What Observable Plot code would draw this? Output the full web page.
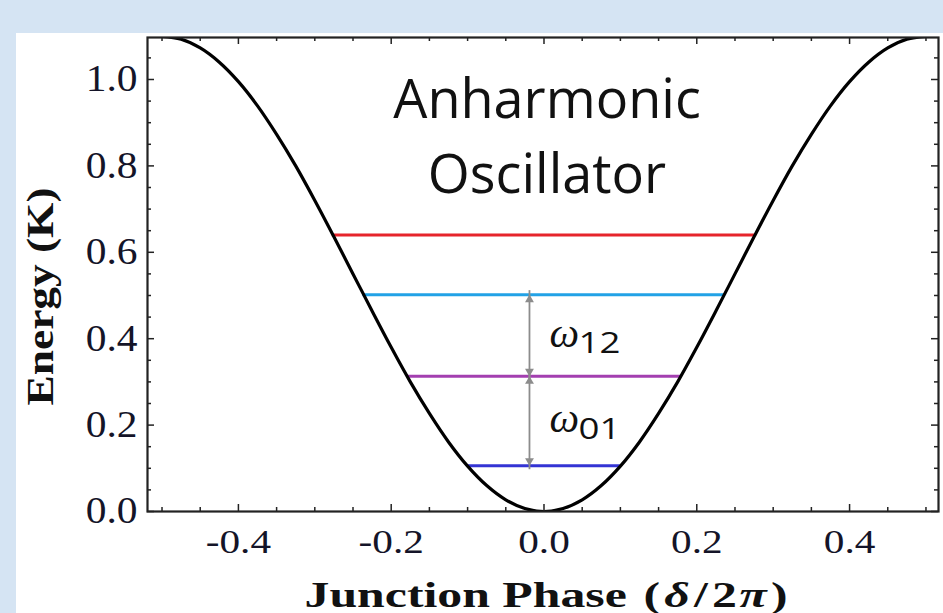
<!DOCTYPE html>
<html><head><meta charset="utf-8">
<script src="https://cdn.jsdelivr.net/npm/d3@7"></script>
<script src="https://cdn.jsdelivr.net/npm/@observablehq/plot@0.6"></script>
<style>
html,body{margin:0;padding:0;width:943px;height:613px;overflow:hidden;
  background:#d5e4f3;}
#panel{position:absolute;left:16px;top:33px;width:927px;height:580px;background:#fff}
#panel svg{overflow:visible}
</style></head><body><div id="panel"></div>
<script>
// potential curve (junction phase δ/2π, energy K)
const phase = [-0.5,-0.475,-0.45,-0.425,-0.4,-0.375,-0.35,-0.325,-0.3,-0.275,-0.25,-0.225,-0.2,-0.175,-0.15,-0.125,-0.1,-0.075,-0.05,-0.025,
  0,0.025,0.05,0.075,0.1,0.125,0.15,0.175,0.2,0.225,0.25,0.275,0.3,0.325,0.35,0.375,0.4,0.425,0.45,0.475,0.5];
const energy = [1.100,1.093,1.073,1.040,0.995,0.939,0.873,0.800,0.720,0.636,0.550,0.464,0.380,0.300,0.227,0.161,0.105,0.060,0.027,0.007,
  0,0.007,0.027,0.060,0.105,0.161,0.227,0.300,0.380,0.464,0.550,0.636,0.720,0.800,0.873,0.939,0.995,1.040,1.073,1.093,1.100];

// energy levels
const levelEnergy = [0.106, 0.313, 0.502, 0.640];
const levelLeft   = [-0.100, -0.179, -0.237, -0.277];
const levelRight  = [0.100, 0.179, 0.237, 0.277];
const levelColors = ["#3434d4", "#a33fb0", "#22a2e6", "#e6242b"];

// transitions (arrows between levels)
const transFrom  = [0.106, 0.313];
const transTo    = [0.313, 0.502];
const transLabel = ["01", "12"];
const arrowPhase = -0.019;

// ticks
const xMajor = [-0.4, -0.2, 0, 0.2, 0.4];
const xMinor = [-0.5,-0.45,-0.35,-0.3,-0.25,-0.15,-0.1,-0.05,0.05,0.1,0.15,0.25,0.3,0.35,0.45,0.5];
const yMajor = [0, 0.2, 0.4, 0.6, 0.8, 1.0];
const yMinor = [0.05,0.1,0.15,0.25,0.3,0.35,0.45,0.5,0.55,0.65,0.7,0.75,0.85,0.9,0.95,1.05];

const titleLines = ["Anharmonic", "Oscillator"];
const xLabel = "Junction Phase (δ/2π)";
const yLabel = "Energy (K)";

const curve = phase.map((p, i) => ({p, e: energy[i]}));
const levels = levelEnergy.map((e, i) => ({e, x1: levelLeft[i], x2: levelRight[i], c: levelColors[i]}));
const trans = transFrom.map((f, i) => ({from: f, to: transTo[i], label: transLabel[i], mid: (f + transTo[i]) / 2, x: arrowPhase}));

const W = 927, H = 580, mL = 131, mT = 4, mR = 5, mB = 102;
const FW = W - mL - mR, FH = H - mT - mB;
const serif = "Liberation Serif, Times New Roman, serif";
const MAJ = 7, MIN = 4;

const plot = Plot.plot({
  width: W, height: H,
  marginLeft: mL, marginTop: mT, marginRight: mR, marginBottom: mB,
  x: {domain: [-0.519, 0.5164]},
  y: {domain: [0, 1.0972]},
  color: {type: "identity"},
  style: {background: "transparent"},
  marks: [
    // level lines
    Plot.ruleY(levels, {y: "e", x1: "x1", x2: "x2", stroke: "c", strokeWidth: 3}),
    // transition arrows
    Plot.ruleX(trans, {x: "x", y1: "from", y2: "to", stroke: "#8c8c8c", strokeWidth: 1.8, insetTop: 4, insetBottom: 4}),
    Plot.dot(trans, {x: "x", y: "to", symbol: "triangle", r: 3.3, fill: "#8c8c8c", dy: 5}),
    Plot.dot(trans, {x: "x", y: "from", symbol: "triangle", rotate: 180, r: 3.3, fill: "#8c8c8c", dy: -5}),
    Plot.text(trans, {x: "x", y: "mid", text: () => "ω", textAnchor: "start", lineAnchor: "middle", dx: 20, dy: -2,
      fontSize: 42, fontStyle: "italic", fontFamily: serif, fill: "#111"}),
    Plot.text(trans, {x: "x", y: "mid", text: "label", textAnchor: "start", lineAnchor: "bottom", dx: 49, dy: 18,
      fontSize: 30, fontFamily: "Open Sans, sans-serif", fill: "#111"}),
    // potential
    Plot.line(curve, {x: "p", y: "e", curve: "catmull-rom", stroke: "black", strokeWidth: 3.2, clip: true}),
    // title text
    Plot.text([titleLines[0]], {frameAnchor: "top", lineAnchor: "bottom", dx: 4, dy: 80, fontSize: 54,
      fontFamily: "Open Sans, sans-serif", fill: "#111"}),
    Plot.text([titleLines[1]], {frameAnchor: "top", lineAnchor: "bottom", dx: 4, dy: 155, fontSize: 54,
      fontFamily: "Open Sans, sans-serif", fill: "#111"}),
    // ticks (inward, all four sides)
    Plot.tickX(xMajor, {x: d => d, insetTop: FH - MAJ, stroke: "#222", strokeWidth: 1.5}),
    Plot.tickX(xMinor, {x: d => d, insetTop: FH - MIN, stroke: "#222", strokeWidth: 1.5}),
    Plot.tickX(xMajor, {x: d => d, insetBottom: FH - MAJ, stroke: "#222", strokeWidth: 1.5}),
    Plot.tickX(xMinor, {x: d => d, insetBottom: FH - MIN, stroke: "#222", strokeWidth: 1.5}),
    Plot.tickY(yMajor, {y: d => d, insetRight: FW - MAJ, stroke: "#222", strokeWidth: 1.5}),
    Plot.tickY(yMinor, {y: d => d, insetRight: FW - MIN, stroke: "#222", strokeWidth: 1.5}),
    Plot.tickY(yMajor, {y: d => d, insetLeft: FW - MAJ, stroke: "#222", strokeWidth: 1.5}),
    Plot.tickY(yMinor, {y: d => d, insetLeft: FW - MIN, stroke: "#222", strokeWidth: 1.5}),
    Plot.frame({stroke: "#222", strokeWidth: 2.2}),
    // axes labels
    Plot.axisX({ticks: xMajor, tickSize: 0, tickPadding: 18, fontSize: 33, fontFamily: serif,
      tickFormat: d => d.toFixed(1), label: null, fill: "#141428"}),
    Plot.axisY({ticks: yMajor, tickSize: 0, tickPadding: 10, fontSize: 37, fontFamily: serif,
      tickFormat: d => d.toFixed(1), label: null, fill: "#141428"}),
    Plot.text([xLabel], {frameAnchor: "bottom", lineAnchor: "bottom", dx: 3, dy: 95, fontSize: 36,
      fontWeight: "bold", fontFamily: serif, fill: "#111"}),
    Plot.text([yLabel], {frameAnchor: "left", rotate: -90, textAnchor: "start", lineAnchor: "middle", dx: -107, dy: 131, fontSize: 38,
      fontWeight: "bold", fontFamily: serif, fill: "#111"})
  ]
});
document.getElementById("panel").appendChild(plot);

// widen glyphs along the reading direction, as in the original figure (textLength only, positions untouched)
const allText = Array.from(plot.querySelectorAll("text"));
function widen(filterFn, factorOrLength, absolute) {
  for (const el of allText.filter(filterFn)) {
    const len = el.getComputedTextLength();
    if (!(len > 0)) continue;
    el.setAttribute("lengthAdjust", "spacingAndGlyphs");
    el.setAttribute("textLength", absolute ? factorOrLength : len * factorOrLength);
  }
}
// x label: italic math symbols
for (const el of allText.filter(e => e.textContent === xLabel)) {
  el.textContent = "";
  const parts = [["Junction Phase ", "normal", 0], ["(", "normal", 3], ["δ", "italic", 3], ["/", "normal", 3],
                 ["2", "normal", 3], ["π", "italic", 2], [")", "normal", 3]];
  for (const [s, st, dx] of parts) {
    const t = document.createElementNS("http://www.w3.org/2000/svg", "tspan");
    t.setAttribute("font-style", st); t.setAttribute("dx", dx); t.textContent = s;
    el.appendChild(t);
  }
  el.setAttribute("lengthAdjust", "spacingAndGlyphs");
  el.setAttribute("textLength", 483);
}
widen(e => e.textContent === yLabel, 218, true);
widen(e => e.textContent === "01" || e.textContent === "12", 1.22);
widen(e => e.closest('g[aria-label="x-axis tick label"]') != null, 1.25);
widen(e => e.closest('g[aria-label="y-axis tick label"]') != null, 1.12);
</script></body></html>
